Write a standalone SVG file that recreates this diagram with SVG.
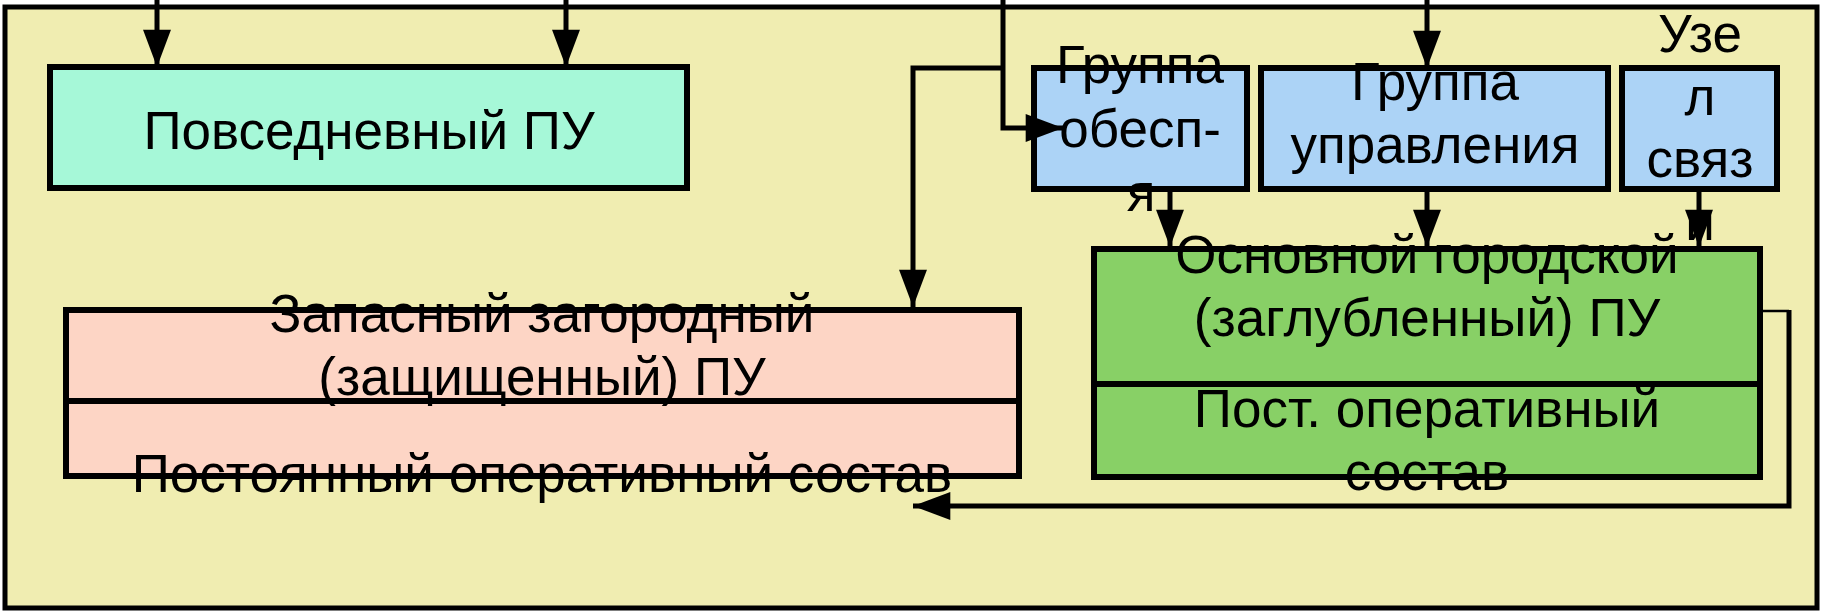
<svg xmlns="http://www.w3.org/2000/svg" width="1825" height="613" viewBox="0 0 1825 613">
<style>
.box{stroke:#000;stroke-width:6}
.t{font-family:"Liberation Sans",Arial,sans-serif;font-size:53px;fill:#000;text-anchor:middle}
.c{fill:none;stroke:#000;stroke-width:5}
.thin{fill:none;stroke:#000;stroke-width:2.5}
</style>
<defs>
<marker id="ah" markerUnits="userSpaceOnUse" markerWidth="38" markerHeight="28" viewBox="0 0 36 27" refX="36" refY="13.5" orient="auto">
<path d="M0,0 L36,13.5 L0,27 z" fill="#000"/>
</marker>
</defs>
<rect x="5" y="7" width="1812" height="601" fill="#F0EDB1" stroke="#000" stroke-width="5"/>
<g id="n-povsednevny">
<rect class="box" x="50" y="67" width="637" height="121" fill="#A6F8D8"/>
<text class="t" x="369" y="149">Повседневный ПУ</text>
</g>
<g id="n-gruppa-obesp">
<rect class="box" x="1034" y="68" width="213" height="121" fill="#ACD3F6"/>
<text class="t" x="1140" y="83">Группа</text>
<text class="t" x="1140" y="147">обесп-</text>
<text class="t" x="1141" y="211">я</text>
</g>
<g id="n-gruppa-upr">
<rect class="box" x="1261" y="68" width="347" height="121" fill="#ACD3F6"/>
<text class="t" x="1435" y="100">Группа</text>
<text class="t" x="1435" y="163">управления</text>
</g>
<g id="n-uzel">
<rect class="box" x="1622" y="68" width="155" height="121" fill="#ACD3F6"/>
<text class="t" x="1700" y="52">Узе</text>
<text class="t" x="1700" y="115">л</text>
<text class="t" x="1700" y="177">связ</text>
<text class="t" x="1700" y="240">и</text>
</g>
<g id="n-osnovnoy">
<rect class="box" x="1094" y="249" width="666" height="228" fill="#88D066"/>
<line class="box" x1="1094" y1="384" x2="1760" y2="384"/>
<text class="t" x="1427" y="273">Основной городской</text>
<text class="t" x="1427" y="336">(заглубленный) ПУ</text>
<text class="t" x="1427" y="427">Пост. оперативный</text>
<text class="t" x="1427" y="490">состав</text>
</g>
<g id="n-zapasny">
<rect class="box" x="66" y="310" width="953" height="166" fill="#FDD5C5"/>
<line class="box" x1="66" y1="401" x2="1019" y2="401"/>
<text class="t" x="542" y="332">Запасный загородный</text>
<text class="t" x="542" y="395">(защищенный) ПУ</text>
<text class="t" x="542" y="492">Постоянный оперативный состав</text>
</g>
<g id="connectors">
<path class="c" d="M157,0 V67" marker-end="url(#ah)"/>
<path class="c" d="M566,0 V67" marker-end="url(#ah)"/>
<path class="c" d="M1427,0 V68" marker-end="url(#ah)"/>
<path class="c" d="M1003,0 V128 H1063" marker-end="url(#ah)"/>
<path class="c" d="M1003,68 H913 V307" marker-end="url(#ah)"/>
<path class="c" d="M1170,190 V247" marker-end="url(#ah)"/>
<path class="c" d="M1427,190 V247" marker-end="url(#ah)"/>
<path class="c" d="M1699,190 V247" marker-end="url(#ah)"/>
<path class="thin" d="M1760,311 H1789"/>
<path class="c" d="M1789,310 V506 H913" marker-end="url(#ah)"/>
</g>
</svg>
